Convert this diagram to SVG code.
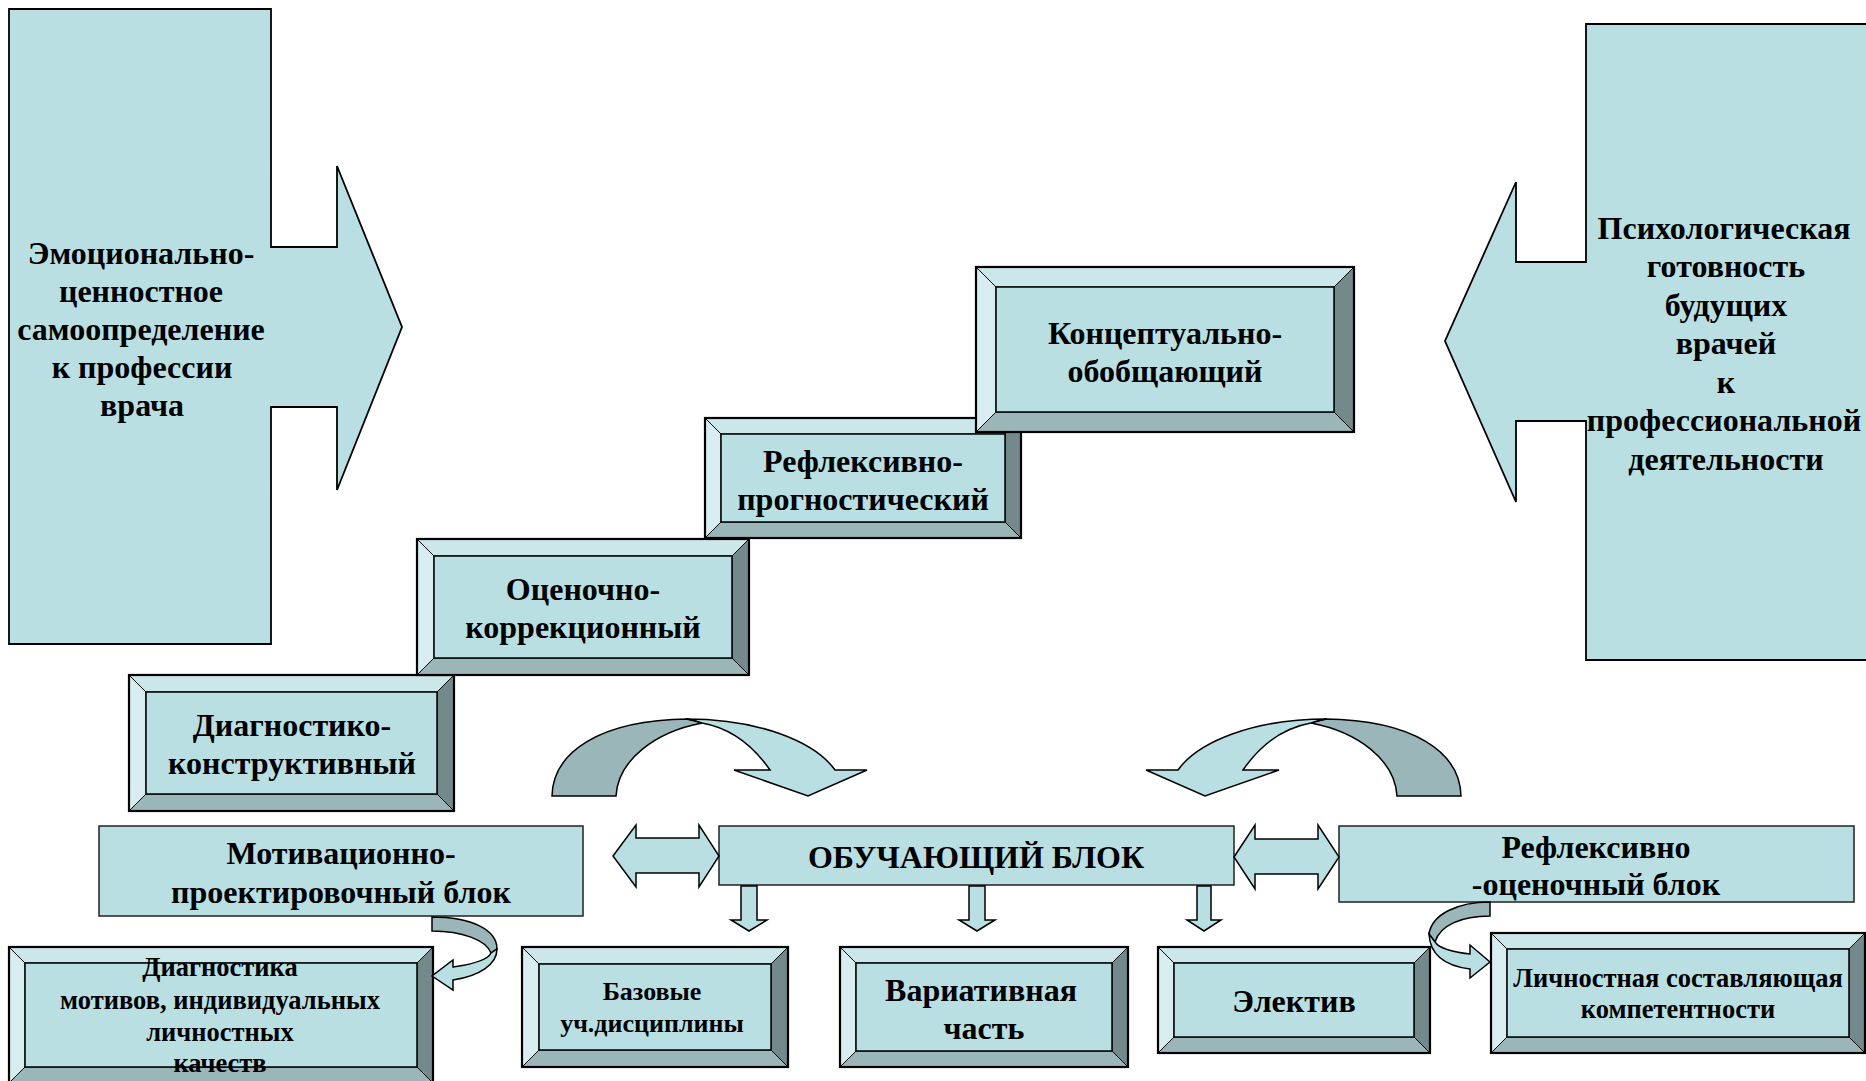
<svg xmlns="http://www.w3.org/2000/svg" width="1866" height="1081" viewBox="0 0 1866 1081">
<style>
text{font-family:"Liberation Serif","Times New Roman",serif;font-weight:bold;fill:#000;text-anchor:middle}
.f{fill:#b9dfe3;stroke:#000;stroke-width:1.8}
.fl{fill:#b9dfe3;stroke:#222;stroke-width:1.5}
.bt{fill:#cce7ea;stroke:#000;stroke-width:1}
.bl{fill:#d7edef;stroke:#000;stroke-width:1}
.br{fill:#73898b;stroke:#000;stroke-width:1}
.bb{fill:#9bb6b8;stroke:#000;stroke-width:1}
.face{fill:#b9dfe3;stroke:#000;stroke-width:1.5}
.out{fill:none;stroke:#000;stroke-width:2.2}
.dk{fill:#9bb6b8;stroke:#000;stroke-width:1.5}
.lt{fill:#b9dfe3;stroke:#000;stroke-width:1.5}
.s32{font-size:32px}.s26{font-size:26.5px}.s24{font-size:26px}
</style>
<rect width="1866" height="1081" fill="#fff"/>

<g id="left-panel">
<path class="f" d="M9,9 L271,9 L271,247 L337,247 L337,166 L402,327 L337,490 L337,407 L271,407 L271,644 L9,644 Z"/>
<text class="s32" x="141" y="264">Эмоционально-</text>
<text class="s32" x="141" y="302">ценностное</text>
<text class="s32" x="141" y="340">самоопределение</text>
<text class="s32" x="142" y="378">к профессии</text>
<text class="s32" x="142" y="416">врача</text>
</g>

<g id="right-panel">
<path class="f" d="M1870,24 L1586,24 L1586,262 L1516,262 L1516,182 L1445,341 L1516,502 L1516,421 L1586,421 L1586,660 L1870,660"/>
<text class="s32" x="1724" y="239">Психологическая</text>
<text class="s32" x="1726" y="277">готовность</text>
<text class="s32" x="1726" y="316">будущих</text>
<text class="s32" x="1726" y="354">врачей</text>
<text class="s32" x="1726" y="393">к</text>
<text class="s32" x="1724" y="431">профессиональной</text>
<text class="s32" x="1726" y="470">деятельности</text>
</g>

<g id="step-diag">
<polygon class="bt" points="129,675 454,675 437,692 146,692"/>
<polygon class="bl" points="129,675 146,692 146,794 129,811"/>
<polygon class="br" points="454,675 454,811 437,794 437,692"/>
<polygon class="bb" points="129,811 146,794 437,794 454,811"/>
<rect class="face" x="146" y="692" width="291" height="102"/>
<rect class="out" x="129" y="675" width="325" height="136"/>
<text class="s32" x="292" y="736">Диагностико-</text>
<text class="s32" x="292" y="774">конструктивный</text>
</g>

<g id="step-ocen">
<polygon class="bt" points="417,539 749,539 732,556 434,556"/>
<polygon class="bl" points="417,539 434,556 434,658 417,675"/>
<polygon class="br" points="749,539 749,675 732,658 732,556"/>
<polygon class="bb" points="417,675 434,658 732,658 749,675"/>
<rect class="face" x="434" y="556" width="298" height="102"/>
<rect class="out" x="417" y="539" width="332" height="136"/>
<text class="s32" x="583" y="600">Оценочно-</text>
<text class="s32" x="583" y="638">коррекционный</text>
</g>

<g id="step-refl">
<polygon class="bt" points="705,418 1021,418 1005,434 721,434"/>
<polygon class="bl" points="705,418 721,434 721,522 705,538"/>
<polygon class="br" points="1021,418 1021,538 1005,522 1005,434"/>
<polygon class="bb" points="705,538 721,522 1005,522 1021,538"/>
<rect class="face" x="721" y="434" width="284" height="88"/>
<rect class="out" x="705" y="418" width="316" height="120"/>
<text class="s32" x="863" y="472">Рефлексивно-</text>
<text class="s32" x="863" y="510">прогностический</text>
</g>

<g id="step-konc">
<polygon class="bt" points="976,267 1354,267 1334,287 996,287"/>
<polygon class="bl" points="976,267 996,287 996,412 976,432"/>
<polygon class="br" points="1354,267 1354,432 1334,412 1334,287"/>
<polygon class="bb" points="976,432 996,412 1334,412 1354,432"/>
<rect class="face" x="996" y="287" width="338" height="125"/>
<rect class="out" x="976" y="267" width="378" height="165"/>
<text class="s32" x="1165" y="344">Концептуально-</text>
<text class="s32" x="1165" y="382">обобщающий</text>
</g>

<g id="motiv-block">
<rect class="fl" x="99" y="826" width="484" height="90"/>
<text class="s32" x="341" y="864">Мотивационно-</text>
<text class="s32" x="341" y="903">проектировочный блок</text>
</g>

<g id="learn-block">
<rect class="fl" x="719" y="826" width="515" height="59"/>
<text class="s32" x="976" y="868">ОБУЧАЮЩИЙ БЛОК</text>
</g>

<g id="reflocen-block">
<rect class="fl" x="1339" y="826" width="515" height="76"/>
<text class="s32" x="1596" y="858">Рефлексивно</text>
<text class="s32" x="1596" y="895">-оценочный блок</text>
</g>

<g id="box-diagnostika">
<polygon class="bt" points="9,947 433,947 417,963 25,963"/>
<polygon class="bl" points="9,947 25,963 25,1067 9,1083"/>
<polygon class="br" points="433,947 433,1083 417,1067 417,963"/>
<polygon class="bb" points="9,1083 25,1067 417,1067 433,1083"/>
<rect class="face" x="25" y="963" width="392" height="104"/>
<rect class="out" x="9" y="947" width="424" height="136"/>
<text class="s26" x="220" y="976">Диагностика</text>
<text class="s26" x="220" y="1009">мотивов, индивидуальных</text>
<text class="s26" x="220" y="1041">личностных</text>
<text class="s26" x="220" y="1072">качеств</text>
</g>

<g id="box-bazovye">
<polygon class="bt" points="522,947 788,947 771,964 539,964"/>
<polygon class="bl" points="522,947 539,964 539,1050 522,1067"/>
<polygon class="br" points="788,947 788,1067 771,1050 771,964"/>
<polygon class="bb" points="522,1067 539,1050 771,1050 788,1067"/>
<rect class="face" x="539" y="964" width="232" height="86"/>
<rect class="out" x="522" y="947" width="266" height="120"/>
<text class="s24" x="652" y="1000">Базовые</text>
<text class="s24" x="652" y="1032">уч.дисциплины</text>
</g>

<g id="box-variativ">
<polygon class="bt" points="840,947 1128,947 1112,963 856,963"/>
<polygon class="bl" points="840,947 856,963 856,1051 840,1067"/>
<polygon class="br" points="1128,947 1128,1067 1112,1051 1112,963"/>
<polygon class="bb" points="840,1067 856,1051 1112,1051 1128,1067"/>
<rect class="face" x="856" y="963" width="256" height="88"/>
<rect class="out" x="840" y="947" width="288" height="120"/>
<text class="s32" x="981" y="1001">Вариативная</text>
<text class="s32" x="984" y="1039">часть</text>
</g>

<g id="box-elektiv">
<polygon class="bt" points="1158,947 1430,947 1414,963 1174,963"/>
<polygon class="bl" points="1158,947 1174,963 1174,1037 1158,1053"/>
<polygon class="br" points="1430,947 1430,1053 1414,1037 1414,963"/>
<polygon class="bb" points="1158,1053 1174,1037 1414,1037 1430,1053"/>
<rect class="face" x="1174" y="963" width="240" height="74"/>
<rect class="out" x="1158" y="947" width="272" height="106"/>
<text class="s32" x="1294" y="1012">Электив</text>
</g>

<g id="box-lichn">
<polygon class="bt" points="1491,933 1865,933 1849,949 1507,949"/>
<polygon class="bl" points="1491,933 1507,949 1507,1037 1491,1053"/>
<polygon class="br" points="1865,933 1865,1053 1849,1037 1849,949"/>
<polygon class="bb" points="1491,1053 1507,1037 1849,1037 1865,1053"/>
<rect class="face" x="1507" y="949" width="342" height="88"/>
<rect class="out" x="1491" y="933" width="374" height="120"/>
<text class="s26" x="1678" y="987">Личностная составляющая</text>
<text class="s26" x="1678" y="1018">компетентности</text>
</g>

<g id="connectors">
<path class="dk" d="M552,796 C553,752 600,720 688,719 L702,723 C655,732 618,760 616,796 Z"/>
<path class="lt" d="M686,719 C760,719 815,742 835,770 L867,770 L808,796 L734,770 L770,770 C752,744 730,728 702,723 C697,721 692,720 686,719 Z"/>
<g transform="translate(2013,0) scale(-1,1)">
<path class="dk" d="M552,796 C553,752 600,720 688,719 L702,723 C655,732 618,760 616,796 Z"/>
<path class="lt" d="M686,719 C760,719 815,742 835,770 L867,770 L808,796 L734,770 L770,770 C752,744 730,728 702,723 C697,721 692,720 686,719 Z"/>
</g>
<path class="lt" d="M613,856 L636,825 L636,838 L699,838 L699,825 L719,856 L699,887 L699,873 L636,873 L636,887 Z"/>
<path class="lt" d="M1234,857 L1255,825 L1255,839 L1318,839 L1318,825 L1339,857 L1318,889 L1318,874 L1255,874 L1255,889 Z"/>
<path class="lt" d="M741,886 L757,886 L757,920 L767,920 L749,931 L731,920 L741,920 Z"/>
<path class="lt" d="M969,886 L985,886 L985,920 L995,920 L977,931 L959,920 L969,920 Z"/>
<path class="lt" d="M1197,886 L1211,886 L1211,920 L1221,920 L1204,931 L1187,920 L1197,920 Z"/>
<path class="dk" d="M432,917 C472,917 497,930 497,949 L491,953 C486,940 462,931 432,931 Z"/>
<path class="lt" d="M497,949 C497,964 480,976 453,980 L453,990 L432,976 L453,960 L453,967 C474,964 488,960 491,953 Z"/>
<path class="dk" d="M1490,902 L1490,916 C1462,916 1440,925 1435,942 L1429,934 C1432,914 1458,902 1490,902 Z"/>
<path class="lt" d="M1429,934 C1430,955 1446,966 1470,969 L1470,978 L1490,962 L1470,945 L1470,954 C1452,952 1439,948 1435,942 Z"/>
</g>
</svg>
